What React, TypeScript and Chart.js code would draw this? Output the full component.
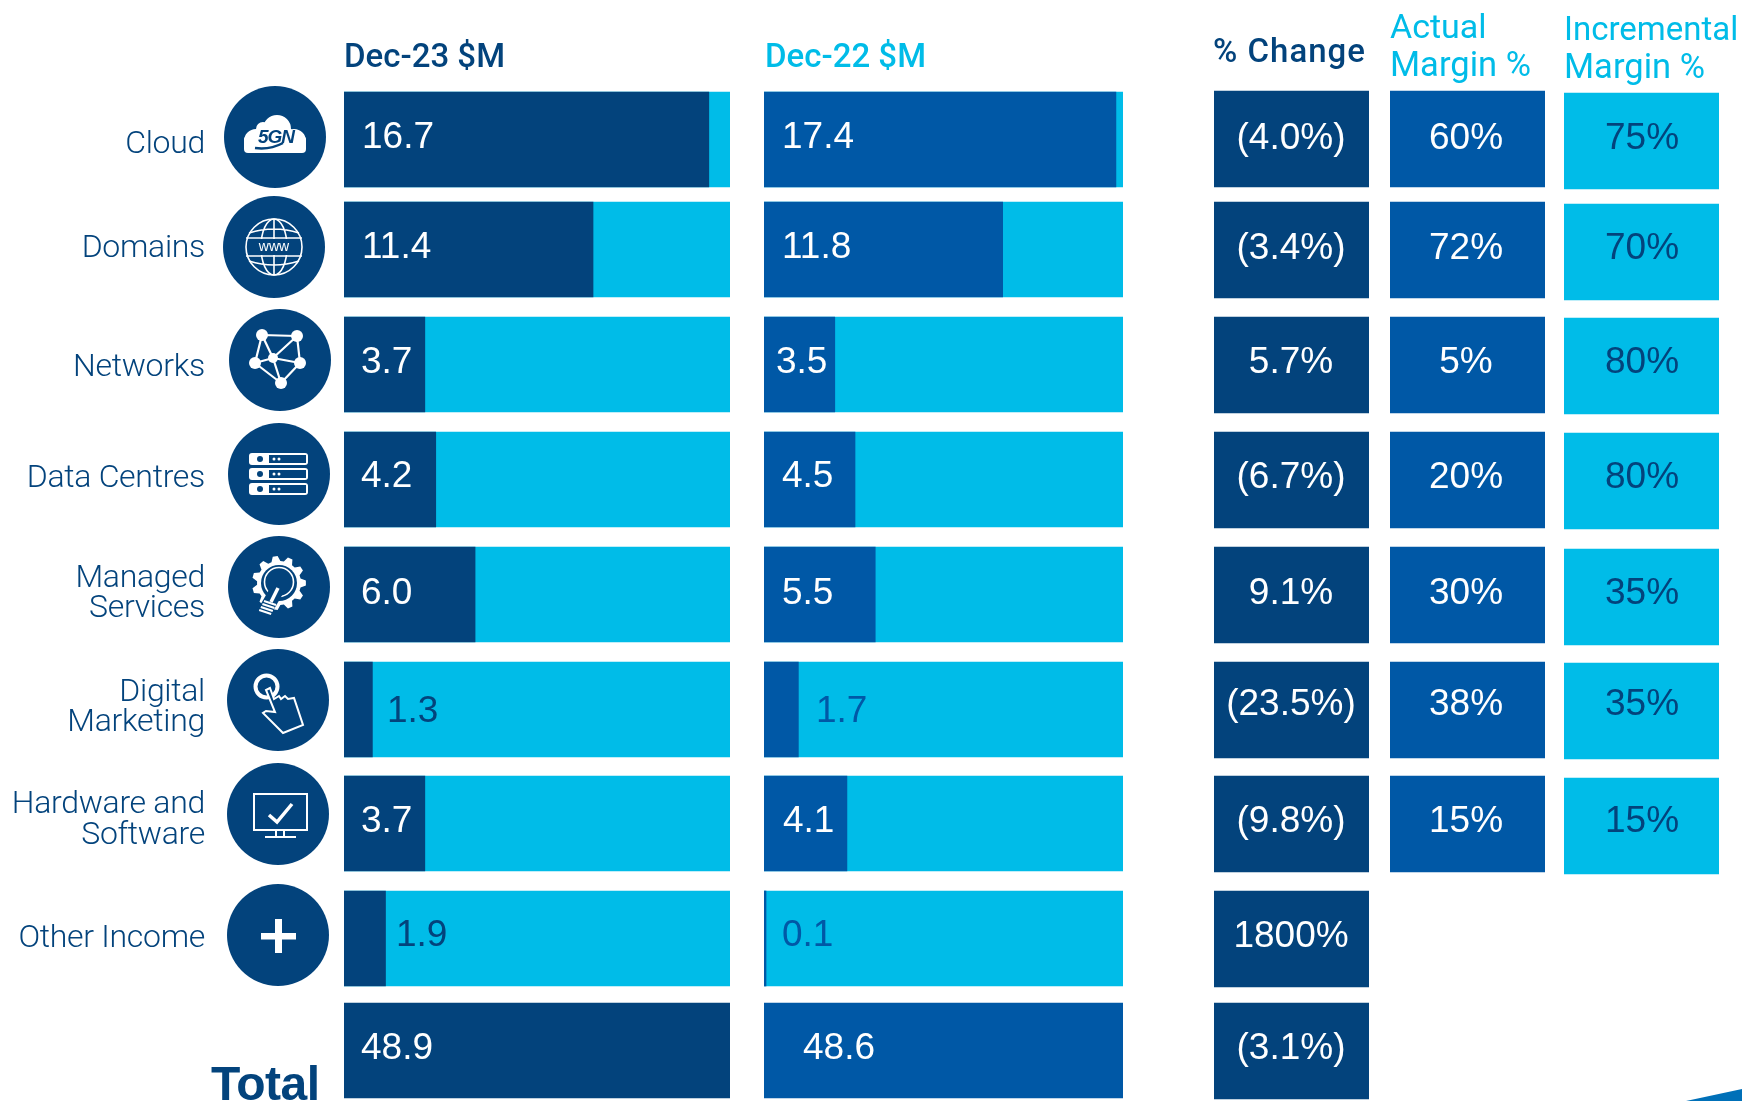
import React, { useEffect, useRef } from "react";
import { Chart, registerables } from "chart.js";

Chart.register(...registerables);

// ---- data ----
const categories = ["Cloud", "Domains", "Networks", "Data Centres", "Managed Services", "Digital Marketing", "Hardware and Software", "Other Income", "Total"];
const dec23Values = [16.7, 11.4, 3.7, 4.2, 6.0, 1.3, 3.7, 1.9, 48.9];
const dec22Values = [17.4, 11.8, 3.5, 4.5, 5.5, 1.7, 4.1, 0.1, 48.6];
const changeLabels = ["(4.0%)", "(3.4%)", "5.7%", "(6.7%)", "9.1%", "(23.5%)", "(9.8%)", "1800%", "(3.1%)"];
const actualMargins = [60, 72, 5, 20, 30, 38, 15];
const incrementalMargins = [75, 70, 80, 80, 35, 35, 15];

// ---- layout ----
const W = 1742;
const H = 1101;
const NAVY = "#03437C";
const MID = "#0058A6";
const CYAN = "#00BCE8";
const SANS = 'Roboto, "Liberation Sans", Arial, sans-serif';
const LIB = '"Liberation Sans", Arial, sans-serif';
const VALUE_FONT = `37px ${LIB}`;
const CAT_FONT = `300 32px ${SANS}`;
const barTops = [92, 202, 317, 432, 547, 662, 776, 891, 1003];
const cellTops = [91, 202, 317, 432, 547, 662, 776, 891, 1003];
const incTops = [93, 204, 318, 433, 549, 663, 778];
const valueBase = [148, 258, 373, 487, 604, 722, 832, 946, 1059];
const cellBase = [149, 259, 373, 488, 604, 715, 832, 947, 1059];
const dec23X = [362, 362, 361, 361, 361, 387, 361, 396, 361];
const dec22X = [782, 782, 776, 782, 782, 816, 783, 782, 803];
const scaleMax23 = 17.67;
const scaleMax22 = 17.75;

const circles: [number, number][] = [[275, 137], [274, 247], [280, 360], [279, 474], [279, 587], [278, 700], [278, 814], [278, 935]];
const catLines: [string, number][][] = [
  [["Cloud", 153]],
  [["Domains", 257]],
  [["Networks", 376]],
  [["Data Centres", 487]],
  [["Managed", 587], ["Services", 617]],
  [["Digital", 701], ["Marketing", 731]],
  [["Hardware and", 813], ["Software", 844]],
  [["Other Income", 947]],
];

type Txt = { s: string; x: number; y: number; font: string; color: string; align?: CanvasTextAlign; ls?: string };

function drawText(ctx: CanvasRenderingContext2D, t: Txt) {
  ctx.save();
  ctx.font = t.font;
  ctx.fillStyle = t.color;
  ctx.textAlign = t.align || "left";
  ctx.textBaseline = "alphabetic";
  (ctx as any).letterSpacing = t.ls || "0px";
  ctx.fillText(t.s, t.x, t.y);
  ctx.restore();
}

// ---- icons ----
function iconCloud(ctx: CanvasRenderingContext2D) {
  ctx.fillStyle = "#fff";
  ctx.beginPath();
  ctx.arc(256, 141, 12, 0, 7);
  ctx.arc(263, 129, 7, 0, 7);
  ctx.arc(277, 129, 14, 0, 7);
  ctx.arc(294, 141, 12, 0, 7);
  ctx.fill();
  ctx.beginPath();
  ctx.roundRect(244, 136, 62, 17, 4);
  ctx.fill();
  drawText(ctx, { s: "5GN", x: 276, y: 143, font: `italic bold 19px ${LIB}`, color: NAVY, align: "center", ls: "-1px" });
  ctx.strokeStyle = NAVY;
  ctx.lineWidth = 2.5;
  ctx.beginPath();
  ctx.moveTo(255, 148);
  ctx.quadraticCurveTo(270, 150, 283, 143);
  ctx.stroke();
}
function iconGlobe(ctx: CanvasRenderingContext2D) {
  const cx = 274, cy = 247, r = 28;
  ctx.strokeStyle = "#fff";
  ctx.lineWidth = 1.6;
  ctx.beginPath();
  ctx.arc(cx, cy, r, 0, 7);
  ctx.stroke();
  ctx.beginPath();
  ctx.ellipse(cx, cy, 13, r, 0, 0, 7);
  ctx.moveTo(cx, cy - r);
  ctx.lineTo(cx, cy + r);
  ctx.moveTo(cx - r + 3, cy - 14);
  ctx.quadraticCurveTo(cx, cy - 22, cx + r - 3, cy - 14);
  ctx.moveTo(cx - r + 3, cy + 14);
  ctx.quadraticCurveTo(cx, cy + 22, cx + r - 3, cy + 14);
  ctx.moveTo(cx - r, cy - 9);
  ctx.lineTo(cx + r, cy - 9);
  ctx.moveTo(cx - r, cy + 9);
  ctx.lineTo(cx + r, cy + 9);
  ctx.stroke();
  ctx.fillStyle = NAVY;
  ctx.fillRect(cx - r + 2, cy - 8, 2 * r - 4, 16);
  drawText(ctx, { s: "www", x: cx, y: cy + 4, font: `14px ${LIB}`, color: "#fff", align: "center" });
}
function iconNetwork(ctx: CanvasRenderingContext2D) {
  const n: [number, number][] = [[262, 335], [297, 336], [255, 363], [300, 363], [273, 358], [281, 383]];
  const e = [[0, 1], [0, 2], [0, 4], [1, 4], [1, 3], [2, 4], [4, 3], [2, 5], [4, 5], [3, 5]];
  ctx.strokeStyle = "#fff";
  ctx.lineWidth = 2.2;
  ctx.beginPath();
  e.forEach(([a, b]) => {
    ctx.moveTo(n[a][0], n[a][1]);
    ctx.lineTo(n[b][0], n[b][1]);
  });
  ctx.stroke();
  ctx.fillStyle = "#fff";
  n.forEach(([x, y], i) => {
    ctx.beginPath();
    ctx.arc(x, y, i === 4 ? 5 : 6, 0, 7);
    ctx.fill();
  });
}
function iconServers(ctx: CanvasRenderingContext2D) {
  [453, 468, 483].forEach((y) => {
    ctx.fillStyle = "#fff";
    ctx.beginPath();
    ctx.roundRect(249, y, 59, 12, 3);
    ctx.fill();
    ctx.fillStyle = NAVY;
    ctx.beginPath();
    ctx.arc(260, y + 6, 3, 0, 7);
    ctx.fill();
    ctx.fillRect(269, y + 2, 37, 8);
    ctx.fillStyle = "#fff";
    [274, 279].forEach((x) => {
      ctx.beginPath();
      ctx.arc(x, y + 6, 1.5, 0, 7);
      ctx.fill();
    });
  });
}
function iconGear(ctx: CanvasRenderingContext2D) {
  const cx = 279, cy = 583;
  const teeth = 11;
  ctx.fillStyle = "#fff";
  ctx.beginPath();
  for (let i = 0; i < teeth; i++) {
    const a = (i / teeth) * Math.PI * 2;
    const st = (Math.PI * 2) / teeth;
    const pts: [number, number][] = [[22, a - st * 0.36], [27, a - st * 0.16], [27, a + st * 0.16], [22, a + st * 0.36]];
    pts.forEach(([r, t], k) => {
      const x = cx + r * Math.cos(t), y = cy + r * Math.sin(t);
      if (i === 0 && k === 0) ctx.moveTo(x, y);
      else ctx.lineTo(x, y);
    });
  }
  ctx.closePath();
  ctx.fill();
  ctx.fillStyle = NAVY;
  ctx.beginPath();
  ctx.arc(cx, cy, 18, 0, 7);
  ctx.fill();
  ctx.strokeStyle = "#fff";
  ctx.lineWidth = 1.6;
  ctx.beginPath();
  ctx.arc(cx, cy - 1, 14.5, 0, 7);
  ctx.stroke();
  ctx.strokeStyle = NAVY;
  ctx.lineWidth = 14;
  ctx.beginPath();
  ctx.moveTo(277, 590);
  ctx.lineTo(262, 616);
  ctx.stroke();
  ctx.strokeStyle = "#fff";
  ctx.lineWidth = 3.5;
  ctx.beginPath();
  ctx.moveTo(278, 588);
  ctx.lineTo(271, 602);
  ctx.stroke();
  ctx.lineWidth = 2;
  ctx.beginPath();
  [0, 1, 2, 3].forEach((i) => {
    const x = 270 - i * 1.6, y = 603 + i * 3;
    ctx.moveTo(x - 6, y - 2);
    ctx.lineTo(x + 6, y + 2);
  });
  ctx.stroke();
}
function iconHand(ctx: CanvasRenderingContext2D) {
  ctx.strokeStyle = "#fff";
  ctx.lineWidth = 4;
  ctx.beginPath();
  ctx.arc(266.5, 686.5, 11, 0, 7);
  ctx.stroke();
  ctx.fillStyle = NAVY;
  ctx.lineWidth = 2;
  ctx.beginPath();
  const pts: [number, number][] = [[270, 688], [274, 699], [279, 696], [281, 699], [285, 696], [288, 699], [294, 698], [303, 725], [283, 733], [263, 713], [266, 711], [275, 712], [266, 690]];
  pts.forEach(([x, y], i) => (i === 0 ? ctx.moveTo(x, y) : ctx.lineTo(x, y)));
  ctx.closePath();
  ctx.fill();
  ctx.stroke();
}
function iconMonitor(ctx: CanvasRenderingContext2D) {
  ctx.strokeStyle = "#fff";
  ctx.lineWidth = 2;
  ctx.strokeRect(254, 794, 53, 36);
  ctx.beginPath();
  ctx.moveTo(276, 830);
  ctx.lineTo(276, 837);
  ctx.moveTo(284, 830);
  ctx.lineTo(284, 837);
  ctx.moveTo(265, 837);
  ctx.lineTo(296, 837);
  ctx.stroke();
  ctx.lineWidth = 3.5;
  ctx.beginPath();
  ctx.moveTo(269, 815);
  ctx.lineTo(277, 822);
  ctx.lineTo(292, 804);
  ctx.stroke();
}
function iconPlus(ctx: CanvasRenderingContext2D) {
  ctx.fillStyle = "#fff";
  ctx.fillRect(261, 933, 35, 6.5);
  ctx.fillRect(275, 919, 7, 34);
}
const icons = [iconCloud, iconGlobe, iconNetwork, iconServers, iconGear, iconHand, iconMonitor, iconPlus];

// ---- panels ----
type Panel = {
  left: number;
  right: number;
  max: number;
  thickness: number;
  tops: number[];
  values: (number | null)[];
  track: (number | null)[];
  color: string;
  overlay: (ctx: CanvasRenderingContext2D) => void;
};

const fullTrack23 = dec23Values.map((_, i) => (i < 8 ? scaleMax23 : null));
const fullTrack22 = dec22Values.map((_, i) => (i < 8 ? scaleMax22 : null));

const panels: Panel[] = [
  {
    left: 344, right: 730, max: scaleMax23, thickness: 95, tops: barTops, values: dec23Values, track: fullTrack23, color: NAVY,
    overlay: (ctx) => {
      circles.forEach(([x, y], i) => {
        ctx.fillStyle = NAVY;
        ctx.beginPath();
        ctx.arc(x, y, 51, 0, 7);
        ctx.fill();
        icons[i](ctx);
      });
      catLines.forEach((lines) =>
        lines.forEach(([s, y]) => drawText(ctx, { s, x: 205, y, font: CAT_FONT, color: NAVY, align: "right", ls: "-0.3px" }))
      );
      drawText(ctx, { s: categories[8], x: 211, y: 1100, font: `bold 48px ${LIB}`, color: NAVY, ls: "-0.5px" });
      drawText(ctx, { s: "Dec-23 $M", x: 344, y: 67, font: `500 33px ${SANS}`, color: NAVY });
      dec23Values.forEach((v, i) => {
        const onCyan = i === 5 || i === 7;
        drawText(ctx, { s: v.toFixed(1), x: dec23X[i], y: valueBase[i], font: VALUE_FONT, color: onCyan ? NAVY : "#fff" });
      });
    },
  },
  {
    left: 764, right: 1123, max: scaleMax22, thickness: 95, tops: barTops, values: dec22Values, track: fullTrack22, color: MID,
    overlay: (ctx) => {
      drawText(ctx, { s: "Dec-22 $M", x: 765, y: 67, font: `500 33px ${SANS}`, color: CYAN });
      dec22Values.forEach((v, i) => {
        const onCyan = i === 5 || i === 7;
        drawText(ctx, { s: v.toFixed(1), x: dec22X[i], y: valueBase[i], font: VALUE_FONT, color: onCyan ? MID : "#fff" });
      });
    },
  },
  {
    left: 1214, right: 1369, max: 1, thickness: 96, tops: cellTops, values: changeLabels.map(() => 1), track: [], color: NAVY,
    overlay: (ctx) => {
      drawText(ctx, { s: "% Change", x: 1213, y: 62, font: `500 33px ${SANS}`, color: NAVY, ls: "1px" });
      changeLabels.forEach((s, i) =>
        drawText(ctx, { s, x: 1291, y: cellBase[i], font: VALUE_FONT, color: "#fff", align: "center" })
      );
    },
  },
  {
    left: 1390, right: 1545, max: 1, thickness: 96, tops: cellTops, values: actualMargins.map(() => 1), track: [], color: MID,
    overlay: (ctx) => {
      drawText(ctx, { s: "Actual", x: 1390, y: 38, font: `400 34px ${SANS}`, color: CYAN });
      drawText(ctx, { s: "Margin %", x: 1390, y: 76, font: `400 34.5px ${SANS}`, color: CYAN });
      actualMargins.forEach((m, i) =>
        drawText(ctx, { s: `${m}%`, x: 1466, y: cellBase[i], font: VALUE_FONT, color: "#fff", align: "center" })
      );
    },
  },
  {
    left: 1564, right: 1719, max: 1, thickness: 96, tops: incTops, values: incrementalMargins.map(() => 1), track: [], color: CYAN,
    overlay: (ctx) => {
      drawText(ctx, { s: "Incremental", x: 1564, y: 40, font: `400 33px ${SANS}`, color: CYAN });
      drawText(ctx, { s: "Margin %", x: 1564, y: 78, font: `400 34.5px ${SANS}`, color: CYAN });
      incrementalMargins.forEach((m, i) =>
        drawText(ctx, { s: `${m}%`, x: 1642, y: cellBase[i], font: VALUE_FONT, color: NAVY, align: "center" })
      );
      ctx.fillStyle = "#0070B8";
      ctx.beginPath();
      ctx.moveTo(1686, H);
      ctx.lineTo(W, 1089);
      ctx.lineTo(W, H);
      ctx.closePath();
      ctx.fill();
    },
  },
];

function makeChart(canvas: HTMLCanvasElement, p: Panel) {
  const centres = p.tops.map((t) => t + p.thickness / 2);
  const points = (arr: (number | null)[]) =>
    arr.map((x, i) => (x == null ? null : { x, y: centres[i] })).filter(Boolean);
  const datasets: any[] = [
    { data: points(p.values), backgroundColor: p.color, barThickness: p.thickness, grouped: false, order: 1 },
  ];
  if (p.track.length) {
    datasets.push({ data: points(p.track), backgroundColor: CYAN, barThickness: p.thickness, grouped: false, order: 2 });
  }
  return new Chart(canvas, {
    type: "bar",
    data: { datasets },
    options: {
      indexAxis: "y",
      animation: false,
      responsive: false,
      devicePixelRatio: 1,
      layout: { padding: { left: p.left, right: W - p.right, top: 0, bottom: 0 } },
      plugins: { legend: { display: false }, tooltip: { enabled: false }, title: { display: false } },
      scales: {
        x: { type: "linear", min: 0, max: p.max, display: false },
        y: { type: "linear", min: 0, max: H, reverse: true, display: false, offset: false },
      },
    },
    plugins: [
      {
        id: "panelOverlay",
        afterDatasetsDraw(chart: any) {
          p.overlay(chart.ctx);
        },
      },
    ],
  } as any);
}

export default function App() {
  const refs = useRef<(HTMLCanvasElement | null)[]>([]);
  useEffect(() => {
    const charts = panels.map((p, i) => makeChart(refs.current[i]!, p));
    return () => charts.forEach((c) => c.destroy());
  }, []);
  return (
    <div style={{ position: "fixed", left: 0, top: 0, width: W, height: H, background: "#fff", overflow: "hidden" }}>
      {panels.map((_, i) => (
        <canvas
          key={i}
          ref={(el) => {
            refs.current[i] = el;
          }}
          width={W}
          height={H}
          style={{ position: "absolute", left: 0, top: 0, width: W, height: H }}
        />
      ))}
    </div>
  );
}
